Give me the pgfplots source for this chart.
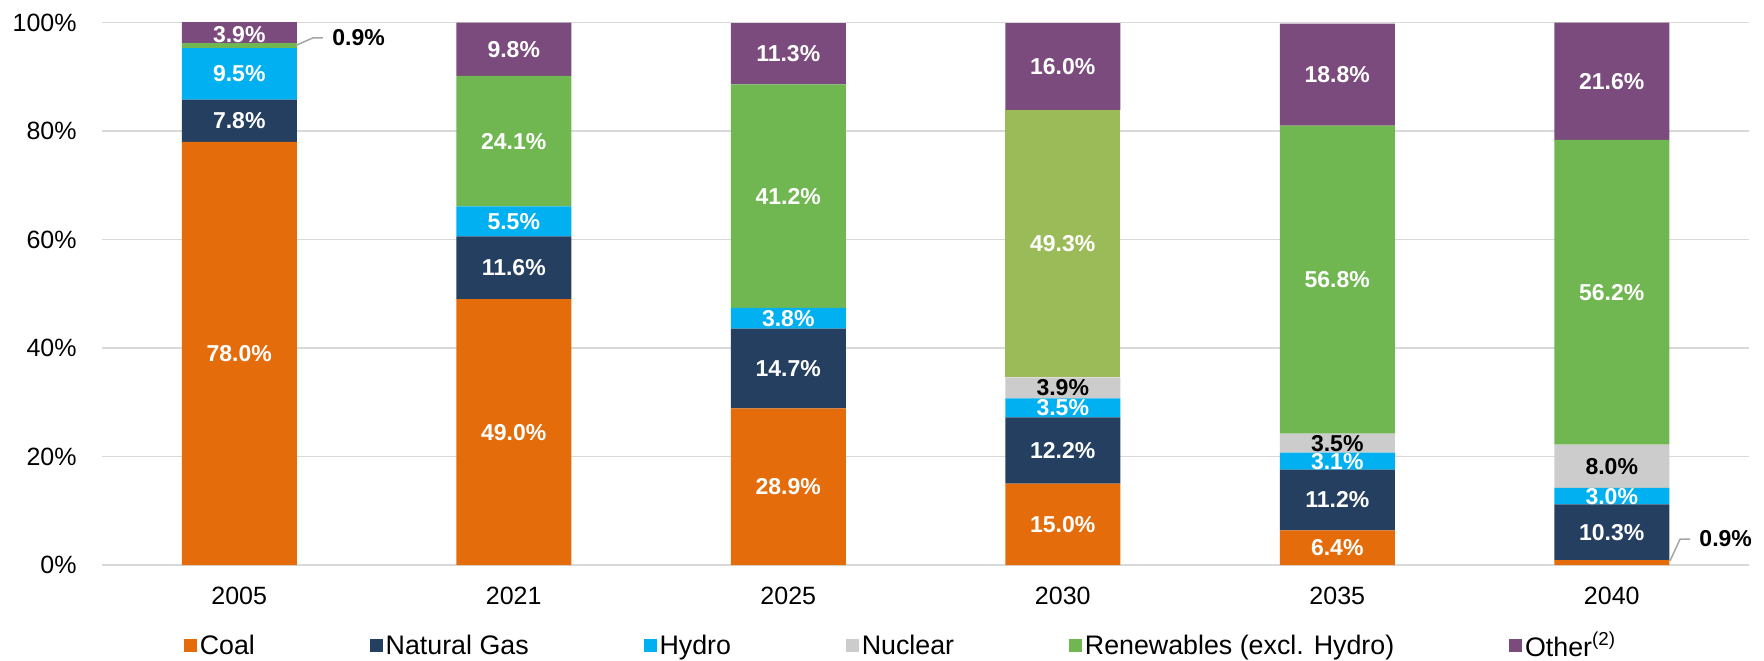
\documentclass[border=0pt]{standalone}
\usepackage{fontspec}
\setmainfont{Liberation Sans}
\usepackage{pgfplots}
\pgfplotsset{compat=1.18}

\definecolor{coal}{HTML}{E46C0A}
\definecolor{natgas}{HTML}{243F60}
\definecolor{hydro}{HTML}{00B0F0}
\definecolor{nuclear}{HTML}{CCCCCC}
\definecolor{renew}{HTML}{70B752}
\definecolor{renewB}{HTML}{9BBB59}
\definecolor{other}{HTML}{7B4B7D}
\definecolor{gridgray}{HTML}{D9D9D9}
\definecolor{leader}{HTML}{A6A6A6}

\pgfplotsset{
  chartbox/.style={width=823.5pt, height=271.2pt, scale only axis,
    xmin=-0.5, xmax=5.5, ymin=0, ymax=100},
  sq/.style={legend image code/.code={\fill[##1] (0pt,-3.2pt) rectangle (6.4pt,3.2pt);}},
  lab/.style={nodes near coords={\pgfplotspointmeta\%}, point meta=explicit symbolic,
    every node near coord/.style={anchor=center, inner sep=0pt,
      font=\fontsize{11.5}{13}\selectfont\bfseries, text=#1}},
}

\begin{document}
\begin{tikzpicture}
\useasboundingbox (-51pt,-47.5pt) rectangle (831pt,282.5pt);
% bars
\begin{axis}[chartbox, ybar stacked, bar width=57.5pt,
  xtick={0,...,5}, xticklabels={2005,2021,2025,2030,2035,2040},
  ytick={0,20,...,100}, yticklabels={0\%,20\%,40\%,60\%,80\%,100\%},
  major tick length=0pt,
  ymajorgrids, grid style={draw=gridgray, line width=0.75pt},
  axis line style={draw=none},
  ticklabel style={font=\fontsize{12.5}{15}\selectfont, text=black, inner sep=0pt},
  yticklabel style={anchor=east, xshift=-12.5pt},
  xticklabel style={anchor=north, yshift=-11pt},
  legend columns=-1,
  legend style={at={(0.5,-0.149)}, anchor=center, xshift=-12pt, draw=none,
    font=\fontsize{13.4}{15}\selectfont, inner sep=0pt,
    nodes={inner xsep=1.5pt, inner ysep=0pt},
    /tikz/every even column/.append style={column sep=56pt}},
]
\addplot[fill=coal, draw=none, sq] coordinates {(0,78.0)(1,49.0)(2,28.9)(3,15.0)(4,6.4)(5,0.9)};
\addlegendentry{Coal}
\addplot[fill=natgas, draw=none, sq] coordinates {(0,7.8)(1,11.6)(2,14.7)(3,12.2)(4,11.2)(5,10.3)};
\addlegendentry{Natural Gas}
\addplot[fill=hydro, draw=none, sq] coordinates {(0,9.5)(1,5.5)(2,3.8)(3,3.5)(4,3.1)(5,3.0)};
\addlegendentry{Hydro}
\addplot[fill=nuclear, draw=none, sq] coordinates {(0,0)(1,0)(2,0)(3,3.9)(4,3.5)(5,8.0)};
\addlegendentry{Nuclear}
\addplot[fill=renew, draw=none, sq] coordinates {(0,0.9)(1,24.1)(2,41.2)(3,0)(4,56.8)(5,56.2)};
\addlegendentry{Renewables (excl. Hydro)}
\addplot[fill=renewB, draw=none, forget plot] coordinates {(0,0)(1,0)(2,0)(3,49.3)(4,0)(5,0)};
\addplot[fill=other, draw=none, sq] coordinates {(0,3.9)(1,9.8)(2,11.3)(3,16.0)(4,18.8)(5,21.6)};
\addlegendentry{Other\textsuperscript{(2)}}
\end{axis}
% value labels
\begin{axis}[chartbox, hide axis, clip=false]
\addplot[draw=none, lab=white] table[meta=l] {
x y l
0 39.0 78.0
0 81.9 7.8
0 90.55 9.5
0 97.7 3.9
1 24.5 49.0
1 54.8 11.6
1 63.35 5.5
1 78.15 24.1
1 95.1 9.8
2 14.45 28.9
2 36.25 14.7
2 45.5 3.8
2 68.0 41.2
2 94.25 11.3
3 7.5 15.0
3 21.1 12.2
3 28.95 3.5
3 59.25 49.3
3 91.9 16.0
4 3.2 6.4
4 12.0 11.2
4 19.15 3.1
4 52.6 56.8
4 90.4 18.8
5 6.05 10.3
5 12.7 3.0
5 50.3 56.2
5 89.2 21.6
};
\addplot[draw=none, lab=black] table[meta=l] {
x y l
3 32.65 3.9
4 22.45 3.5
5 18.2 8.0
};
\addplot[leader, line width=0.75pt] coordinates {(0.207,95.8)(0.269,97.2)(0.305,97.2)};
\addplot[leader, line width=0.75pt] coordinates {(5.212,0.74)(5.249,4.79)(5.285,4.79)};
\addplot[draw=none, lab=black, every node near coord/.append style={anchor=west}] table[meta=l] {
x y l
0.338 97.2 0.9
5.318 4.79 0.9
};
\end{axis}
\end{tikzpicture}
\end{document}
